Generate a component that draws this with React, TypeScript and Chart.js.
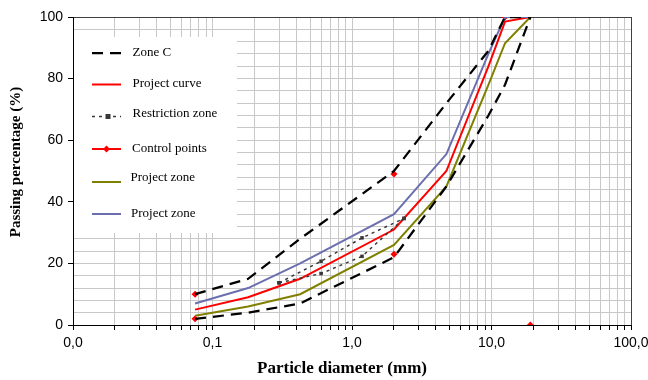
import React, { useEffect, useRef } from 'react';
import { Chart, registerables } from 'chart.js';

Chart.register(...registerables);

// ---- Data ----
const sieves = [0.075, 0.18, 0.425, 2, 4.75, 9.5, 12.5, 19];
const zoneCUpper = [10, 15, 28, 50, 72, 89, 100, 100];
const zoneCLower = [2, 4, 7, 22, 45, 68, 78, 100];
const projectCurve = [5, 9, 15, 31, 50, 84, 98.5, 100];
const projectZoneLower = [3, 6, 10, 26, 45, 78, 91.5, 100];
const projectZoneUpper = [7, 12, 20, 36, 55.5, 88, 100, 100];

const restrictionSieves = [0.3, 0.6, 1.18, 2.36];
const restrictionUpper = [13.7, 20.7, 28.3, 34.6];
const restrictionLower = [13.7, 16.7, 22.3, 34.6];

const controlSieves = [0.075, 0.075, 2, 2, 12.5, 19];
const controlValues = [2, 10, 23, 49, 100, 0];

const xTickValues = [0.01, 0.1, 1, 10, 100];
const xTickLabels = ['0,0', '0,1', '1,0', '10,0', '100,0'];
const yTickValues = [0, 20, 40, 60, 80, 100];

const legendLabels = ['Zone C', 'Project curve', 'Restriction zone', 'Control points', 'Project zone', 'Project zone'];
const xTitle = 'Particle diameter (mm)';
const yTitle = 'Passing percentage (%)';

const pts = (xs: number[], ys: number[]) => xs.map((x, i) => ({ x, y: ys[i] }));

const xGrid: number[] = [];
for (let e = -2; e <= 1; e++) {
  for (let m = 1; m <= 9; m++) xGrid.push(+(m * Math.pow(10, e)).toPrecision(6));
}
xGrid.push(100);
const yGrid: number[] = [];
for (let v = 0; v <= 100; v += 4) yGrid.push(v);

const RED = '#ff0000';
const OLIVE = '#808000';
const BLUE = '#6b6fae';
const GRAY = '#383838';

const legendPlugin = {
  id: 'customLegendTitles',
  afterDraw(chart: any) {
    const ctx = chart.ctx as CanvasRenderingContext2D;
    ctx.save();
    // legend box
    ctx.fillStyle = '#ffffff';
    ctx.fillRect(74, 37, 163, 196);
    const lineY = [53, 84.5, 116.5, 149, 182, 214];
    const textY = [53, 84, 113.5, 149, 178, 214];
    const x0 = 92, x1 = 121;
    const drawLine = (y: number, color: string, width: number, dash: number[]) => {
      ctx.beginPath();
      ctx.setLineDash(dash);
      ctx.strokeStyle = color;
      ctx.lineWidth = width;
      ctx.moveTo(x0, y);
      ctx.lineTo(x1, y);
      ctx.stroke();
      ctx.setLineDash([]);
    };
    drawLine(lineY[0], '#000', 2.25, [11, 7]);
    drawLine(lineY[1], RED, 2, []);
    drawLine(lineY[2], GRAY, 1.5, [3, 4]);
    ctx.fillStyle = GRAY;
    ctx.fillRect(108 - 2.5, lineY[2] - 2.5, 5, 5);
    drawLine(lineY[3], RED, 2, []);
    ctx.fillStyle = RED;
    ctx.beginPath();
    ctx.moveTo(106.5, lineY[3] - 3.5);
    ctx.lineTo(110, lineY[3]);
    ctx.lineTo(106.5, lineY[3] + 3.5);
    ctx.lineTo(103, lineY[3]);
    ctx.closePath();
    ctx.fill();
    drawLine(lineY[4], OLIVE, 2, []);
    drawLine(lineY[5], BLUE, 2, []);

    ctx.fillStyle = '#000';
    ctx.font = '13px "Liberation Serif", serif';
    ctx.textBaseline = 'middle';
    ctx.textAlign = 'left';
    const textX = [132.5, 132.5, 132.5, 132, 130.5, 131];
    legendLabels.forEach((t, i) => ctx.fillText(t, textX[i], textY[i]));

    // axis titles
    ctx.font = 'bold 17px "Liberation Serif", serif';
    ctx.textAlign = 'center';
    ctx.fillText(xTitle, 342, 369);
    ctx.save();
    ctx.translate(16, 162);
    ctx.rotate(-Math.PI / 2);
    ctx.font = 'bold 15px "Liberation Serif", serif';
    ctx.fillText(yTitle, 0, 0);
    ctx.restore();
    ctx.restore();
  },
};

export default function App() {
  const ref = useRef<HTMLCanvasElement | null>(null);
  useEffect(() => {
    if (!ref.current) return;
    const lineDs = (label: string, xs: number[], ys: number[], color: string, width: number, dash: number[] = []) => ({
      label,
      data: pts(xs, ys),
      showLine: true,
      borderColor: color,
      backgroundColor: color,
      borderWidth: width,
      borderDash: dash,
      pointRadius: 0,
      tension: 0,
    });
    const chart = new Chart(ref.current, {
      type: 'scatter',
      data: {
        datasets: [
          lineDs('Zone C', sieves, zoneCUpper, '#000', 2.25, [11, 7]),
          lineDs('Zone C', sieves, zoneCLower, '#000', 2.25, [11, 7]),
          {
            ...lineDs('Restriction zone', restrictionSieves, restrictionUpper, GRAY, 1.5, [3, 4]),
            pointRadius: 2.5, pointStyle: 'rect', pointBackgroundColor: GRAY, pointBorderWidth: 0,
          },
          {
            ...lineDs('Restriction zone', restrictionSieves, restrictionLower, GRAY, 1.5, [3, 4]),
            pointRadius: 2.5, pointStyle: 'rect', pointBackgroundColor: GRAY, pointBorderWidth: 0,
          },
          lineDs('Project zone', sieves, projectZoneLower, OLIVE, 2),
          lineDs('Project zone', sieves, projectZoneUpper, BLUE, 2),
          lineDs('Project curve', sieves, projectCurve, RED, 2),
          {
            label: 'Control points',
            data: pts(controlSieves, controlValues),
            showLine: false,
            pointStyle: 'rectRot',
            pointRadius: 3.5,
            pointBackgroundColor: RED,
            pointBorderColor: RED,
            pointBorderWidth: 0,
          },
        ] as any,
      },
      options: {
        responsive: false,
        animation: false,
        devicePixelRatio: 1,
        layout: { padding: { top: 17, right: 17, bottom: 0, left: 0 } },
        plugins: { legend: { display: false }, tooltip: { enabled: false } },
        scales: {
          x: {
            type: 'logarithmic',
            min: 0.01,
            max: 100,
            afterBuildTicks: (s: any) => {
              s.ticks = xGrid.map((v) => ({ value: v }));
            },
            afterFit: (s: any) => {
              s.height = 55;
              s.paddingLeft = 0;
              s.paddingRight = 0;
            },
            ticks: {
              autoSkip: false,
              maxRotation: 0,
              minRotation: 0,
              padding: 5,
              color: '#000',
              font: { family: '"Liberation Sans", Arial, sans-serif', size: 14 },
              callback: (v: any) => {
                const i = xTickValues.findIndex((t) => Math.abs(t - Number(v)) / t < 1e-6);
                return i >= 0 ? xTickLabels[i] : '';
              },
            },
            grid: {
              color: (c: any) => (c.tick && Math.abs(c.tick.value - 100) < 1e-6 ? '#404040' : '#c8c8c8'),
              lineWidth: 1,
              tickLength: 5,
              tickColor: '#000',
            },
            border: { color: '#000', width: 1 },
          } as any,
          y: {
            type: 'linear',
            min: 0,
            max: 100,
            afterBuildTicks: (s: any) => {
              s.ticks = yGrid.map((v) => ({ value: v }));
            },
            afterFit: (s: any) => {
              s.width = 73;
              s.paddingTop = 0;
              s.paddingBottom = 0;
            },
            ticks: {
              autoSkip: false,
              padding: 5,
              color: '#000',
              font: { family: '"Liberation Sans", Arial, sans-serif', size: 14 },
              callback: (v: any) => (yTickValues.includes(Number(v)) ? String(v) : ''),
            },
            grid: {
              color: (c: any) => (c.tick && c.tick.value === 100 ? '#404040' : '#c8c8c8'),
              lineWidth: 1,
              tickLength: 5,
              tickColor: (c: any) => (c.tick && c.tick.value % 20 === 0 ? '#000' : 'rgba(0,0,0,0)'),
            },
            border: { color: '#000', width: 1 },
          } as any,
        },
      },
      plugins: [legendPlugin],
    });
    return () => chart.destroy();
  }, []);
  return (
    <div style={{ position: 'fixed', left: 0, top: 0, width: 648, height: 380, background: '#fff' }}>
      <canvas ref={ref} width={648} height={380} style={{ width: 648, height: 380, display: 'block' }} />
    </div>
  );
}
